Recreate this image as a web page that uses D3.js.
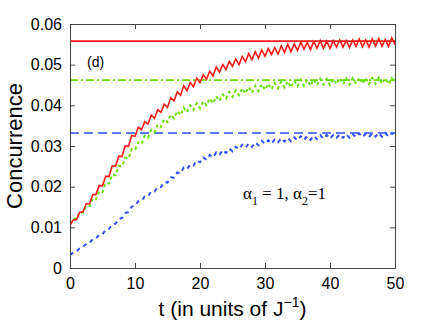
<!DOCTYPE html>
<html lang="en">
	<head>
		<meta charset="utf-8" />
		<title>Concurrence vs t</title>
		<script src="https://d3js.org/d3.v7.min.js"></script>
		<style>
			body {
				margin: 0;
				background: #ffffff;
			}
			svg {
				display: block;
				font-family: "Liberation Sans", Arial, sans-serif;
			}
		</style>
	</head>
	<body>
		<div id="chart"></div>
	<script>
	// time axis (units of 1/J)
	const tVals = [0, 0.5, 1, 1.5, 2, 2.5, 3, 3.5, 4, 4.5, 5, 5.5, 6, 6.5, 7, 7.5, 8, 8.5, 9, 9.5,
		10, 10.5, 11, 11.5, 12, 12.5, 13, 13.5, 14, 14.5, 15, 15.5, 16, 16.5, 17, 17.5, 18, 18.5, 19, 19.5,
		20, 20.5, 21, 21.5, 22, 22.5, 23, 23.5, 24, 24.5, 25, 25.5, 26, 26.5, 27, 27.5, 28, 28.5, 29, 29.5,
		30, 30.5, 31, 31.5, 32, 32.5, 33, 33.5, 34, 34.5, 35, 35.5, 36, 36.5, 37, 37.5, 38, 38.5, 39, 39.5,
		40, 40.5, 41, 41.5, 42, 42.5, 43, 43.5, 44, 44.5, 45, 45.5, 46, 46.5, 47, 47.5, 48, 48.5, 49, 49.5, 50];

	// red, solid
	const redCurve = [0.0105, 0.0118, 0.0119, 0.0137, 0.0138, 0.0158, 0.0158, 0.0180, 0.0181, 0.0203,
		0.0202, 0.0226, 0.0225, 0.0251, 0.0250, 0.0275, 0.0274, 0.0300, 0.0299, 0.0326,
		0.0324, 0.0346, 0.0340, 0.0360, 0.0354, 0.0376, 0.0368, 0.0389, 0.0383, 0.0403,
		0.0395, 0.0419, 0.0411, 0.0433, 0.0425, 0.0448, 0.0436, 0.0456, 0.0446, 0.0467,
		0.0456, 0.0475, 0.0464, 0.0484, 0.0472, 0.0494, 0.0482, 0.0500, 0.0488, 0.0508,
		0.0496, 0.0514, 0.0500, 0.0520, 0.0507, 0.0527, 0.0512, 0.0532, 0.0516, 0.0536,
		0.0521, 0.0540, 0.0525, 0.0542, 0.0526, 0.0546, 0.0530, 0.0550, 0.0532, 0.0551,
		0.0535, 0.0555, 0.0538, 0.0555, 0.0537, 0.0557, 0.0540, 0.0559, 0.0540, 0.0558,
		0.0540, 0.0559, 0.0543, 0.0561, 0.0543, 0.0559, 0.0542, 0.0561, 0.0545, 0.0563,
		0.0544, 0.0561, 0.0543, 0.0563, 0.0546, 0.0564, 0.0545, 0.0562, 0.0545, 0.0566, 0.0549];

	// green, dotted
	const greenCurve = [0.0110, 0.0122, 0.0121, 0.0138, 0.0136, 0.0153, 0.0152, 0.0171, 0.0169, 0.0189,
		0.0187, 0.0209, 0.0208, 0.0230, 0.0228, 0.0251, 0.0250, 0.0271, 0.0269, 0.0292,
		0.0290, 0.0309, 0.0305, 0.0325, 0.0320, 0.0340, 0.0334, 0.0353, 0.0347, 0.0366,
		0.0359, 0.0377, 0.0368, 0.0386, 0.0376, 0.0394, 0.0383, 0.0400, 0.0389, 0.0405,
		0.0393, 0.0410, 0.0400, 0.0417, 0.0405, 0.0422, 0.0411, 0.0427, 0.0417, 0.0433,
		0.0421, 0.0437, 0.0425, 0.0442, 0.0429, 0.0445, 0.0431, 0.0448, 0.0435, 0.0452,
		0.0438, 0.0453, 0.0439, 0.0455, 0.0442, 0.0458, 0.0444, 0.0459, 0.0444, 0.0460,
		0.0447, 0.0463, 0.0448, 0.0463, 0.0448, 0.0464, 0.0450, 0.0465, 0.0451, 0.0465,
		0.0450, 0.0465, 0.0452, 0.0467, 0.0452, 0.0466, 0.0451, 0.0467, 0.0453, 0.0468,
		0.0453, 0.0467, 0.0452, 0.0467, 0.0453, 0.0468, 0.0453, 0.0467, 0.0452, 0.0467, 0.0456];

	// blue, dotted
	const blueCurve = [0.0032, 0.0038, 0.0041, 0.0049, 0.0052, 0.0059, 0.0062, 0.0071, 0.0073, 0.0082,
		0.0083, 0.0094, 0.0096, 0.0107, 0.0109, 0.0120, 0.0123, 0.0135, 0.0138, 0.0151,
		0.0153, 0.0164, 0.0165, 0.0176, 0.0176, 0.0188, 0.0188, 0.0199, 0.0199, 0.0211,
		0.0210, 0.0223, 0.0222, 0.0235, 0.0233, 0.0247, 0.0243, 0.0255, 0.0252, 0.0264,
		0.0260, 0.0272, 0.0266, 0.0278, 0.0272, 0.0284, 0.0278, 0.0290, 0.0283, 0.0294,
		0.0287, 0.0298, 0.0292, 0.0303, 0.0296, 0.0306, 0.0298, 0.0309, 0.0302, 0.0313,
		0.0305, 0.0314, 0.0306, 0.0316, 0.0309, 0.0319, 0.0311, 0.0320, 0.0311, 0.0321,
		0.0314, 0.0324, 0.0315, 0.0324, 0.0315, 0.0325, 0.0317, 0.0327, 0.0318, 0.0327,
		0.0318, 0.0327, 0.0320, 0.0329, 0.0320, 0.0329, 0.0320, 0.0329, 0.0322, 0.0331,
		0.0322, 0.0330, 0.0322, 0.0331, 0.0323, 0.0332, 0.0323, 0.0332, 0.0323, 0.0332, 0.0326];

	// steady state levels (horizontal lines)
	const steadyNames = ["red", "green", "blue"];
	const steadyValues = [0.0558, 0.0462, 0.0332];

	const xTicks = [0, 10, 20, 30, 40, 50];
	const yTicks = [0, 0.01, 0.02, 0.03, 0.04, 0.05, 0.06];

	const width = 436;
	const height = 324;
	const margin = { top: 24, right: 41, bottom: 56, left: 70 };

	const svg = d3.select("#chart")
		.append("svg")
		.attr("width", width)
		.attr("height", height);

	const x = d3.scaleLinear()
		.domain([0, 50])
		.range([margin.left, width - margin.right]);

	const y = d3.scaleLinear()
		.domain([0, 0.06])
		.range([height - margin.bottom, margin.top]);

	svg.append("clipPath")
		.attr("id", "plotclip")
		.append("rect")
		.attr("x", margin.left)
		.attr("y", margin.top)
		.attr("width", width - margin.left - margin.right)
		.attr("height", height - margin.top - margin.bottom);

	const plot = svg.append("g").attr("clip-path", "url(#plotclip)");

	const styles = {
		red: { color: "#ff1a1a", steadyDash: null, curveDash: null, curveWidth: 1.6 },
		green: { color: "#66e000", steadyDash: "8,3,2,3", curveDash: "3,3", curveWidth: 2 },
		blue: { color: "#2e4fff", steadyDash: "9,5", curveDash: "4,4", curveWidth: 2 }
	};

	// horizontal steady-state lines
	plot.selectAll("line.steady")
		.data(steadyValues)
		.join("line")
		.attr("class", "steady")
		.attr("x1", x(0))
		.attr("x2", x(50))
		.attr("y1", d => y(d))
		.attr("y2", d => y(d))
		.attr("stroke", (d, i) => styles[steadyNames[i]].color)
		.attr("stroke-width", 1.6)
		.attr("stroke-dasharray", (d, i) => styles[steadyNames[i]].steadyDash);

	const line = d3.line()
		.x((d, i) => x(tVals[i]))
		.y(d => y(d));

	const curves = [
		{ name: "blue", values: blueCurve },
		{ name: "green", values: greenCurve },
		{ name: "red", values: redCurve }
	];

	plot.selectAll("path.curve")
		.data(curves)
		.join("path")
		.attr("class", "curve")
		.attr("d", d => line(d.values))
		.attr("fill", "none")
		.attr("stroke", d => styles[d.name].color)
		.attr("stroke-width", d => styles[d.name].curveWidth)
		.attr("stroke-dasharray", d => styles[d.name].curveDash);

	// axes, ticks pointing inward, box on all four sides
	function xAxis(g) {
		g.attr("transform", `translate(0,${height - margin.bottom})`)
			.call(d3.axisBottom(x).tickValues(xTicks).tickSizeInner(-5).tickSizeOuter(0).tickPadding(10))
			.attr("font-size", "16px")
			.attr("font-family", "'Liberation Sans', Arial, sans-serif");
	}
	function yAxis(g) {
		g.attr("transform", `translate(${margin.left},0)`)
			.call(d3.axisLeft(y).tickValues(yTicks).tickSizeInner(-5).tickSizeOuter(0).tickPadding(8)
				.tickFormat(d => d === 0 ? "0" : d3.format(".2f")(d)))
			.attr("font-size", "16px")
			.attr("font-family", "'Liberation Sans', Arial, sans-serif");
	}
	function xAxisTop(g) {
		g.attr("transform", `translate(0,${margin.top})`)
			.call(d3.axisTop(x).tickValues(xTicks).tickSizeInner(-5).tickSizeOuter(0).tickFormat(""));
	}
	function yAxisRight(g) {
		g.attr("transform", `translate(${width - margin.right},0)`)
			.call(d3.axisRight(y).tickValues(yTicks).tickSizeInner(-5).tickSizeOuter(0).tickFormat(""));
	}

	svg.append("g").call(xAxis);
	svg.append("g").call(yAxis);
	svg.append("g").call(xAxisTop);
	svg.append("g").call(yAxisRight);
	svg.selectAll(".domain").attr("stroke", "#444");
	svg.selectAll(".tick line").attr("stroke", "#444");
	svg.selectAll(".tick text").attr("fill", "#000");

	// axis titles
	svg.append("text")
		.attr("transform", `translate(22,${(margin.top + height - margin.bottom) / 2}) rotate(-90)`)
		.attr("text-anchor", "middle")
		.attr("font-size", "22px")
		.text("Concurrence");

	const xTitle = svg.append("text")
		.attr("x", (margin.left + width - margin.right) / 2)
		.attr("y", 316)
		.attr("text-anchor", "middle")
		.attr("font-size", "21px");
	xTitle.append("tspan").text("t (in units of J");
	xTitle.append("tspan").attr("dy", -9).attr("font-size", "14px").text("\u22121");
	xTitle.append("tspan").attr("dy", 9).text(")");

	// panel label
	svg.append("text")
		.attr("x", 87)
		.attr("y", 67)
		.attr("font-size", "14px")
		.text("(d)");

	// parameter annotation
	const note = svg.append("text")
		.attr("x", 243)
		.attr("y", 199)
		.attr("font-family", "'Liberation Serif', 'Times New Roman', serif")
		.attr("font-size", "17px");
	note.append("tspan").text("\u03b1");
	note.append("tspan").attr("dy", 6).attr("font-size", "12px").text("1");
	note.append("tspan").attr("dy", -6).text(" = 1, \u03b1");
	note.append("tspan").attr("dy", 6).attr("font-size", "12px").text("2");
	note.append("tspan").attr("dy", -6).text("=1");
	</script>
	</body>
</html>
